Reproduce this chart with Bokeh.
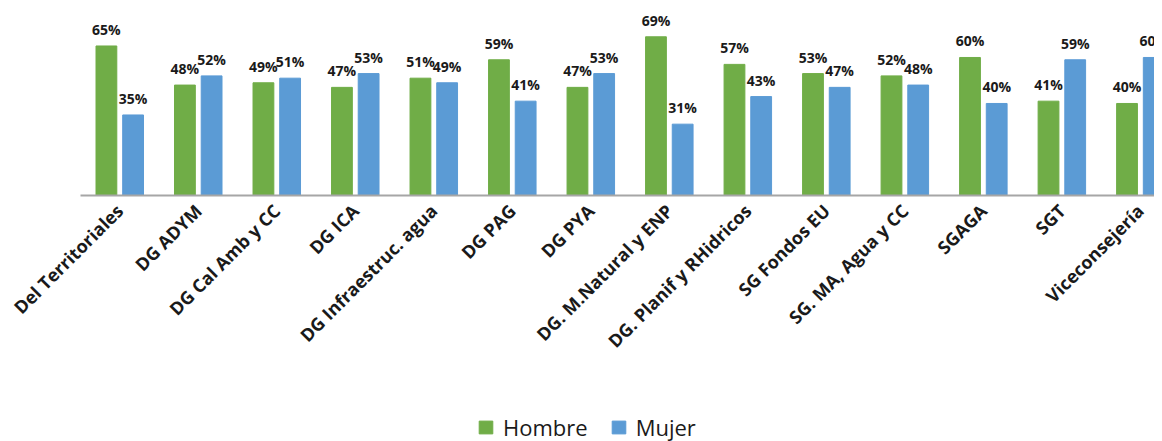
import math
from bokeh.plotting import figure
from bokeh.models import ColumnDataSource, LabelSet, Legend, LegendItem, FixedTicker, Range1d
from bokeh.embed import file_html
from bokeh.resources import INLINE
from bokeh.core.properties import value

categories = ["Del Territoriales", "DG ADYM", "DG Cal Amb y CC", "DG ICA",
              "DG Infraestruc. agua", "DG PAG", "DG PYA", "DG. M.Natural y ENP",
              "DG. Planif y RHidricos", "SG Fondos EU", "SG. MA, Agua y CC",
              "SGAGA", "SGT", "Viceconsejería"]
hombre = [65, 48, 49, 47, 51, 59, 47, 69, 57, 53, 52, 60, 41, 40]
mujer = [35, 52, 51, 53, 49, 41, 53, 31, 43, 47, 48, 40, 59, 60]

GREEN = "#70AD47"
BLUE = "#5B9BD5"
off = 0.17
idx = list(range(len(categories)))

src_h = ColumnDataSource(dict(x=[i - off for i in idx], y=hombre,
                              lbl=[f"{v}%" for v in hombre]))
src_m = ColumnDataSource(dict(x=[i + off for i in idx], y=mujer,
                              lbl=[f"{v}%" for v in mujer]))

X_START, X_END = -1.519, 13.18
p = figure(frame_width=1154, frame_height=433, x_range=Range1d(X_START, X_END),
           y_range=Range1d(-107, 81.3), output_backend="svg",
           toolbar_location=None, min_border_left=0, min_border_right=0,
           min_border_top=8, min_border_bottom=0)

rh = p.vbar(x="x", top="y", width=0.265, source=src_h, color=GREEN)
rm = p.vbar(x="x", top="y", width=0.265, source=src_m, color=BLUE)

for src in (src_h, src_m):
    p.add_layout(LabelSet(x="x", y="y", text="lbl", source=src,
                          text_align="center", text_baseline="bottom",
                          y_offset=7, text_font_size="14px",
                          text_font_style="bold", text_font=value("Open Sans"),
                          text_color="#1a1a1a"))

p.yaxis.visible = False
p.grid.visible = False
p.outline_line_color = None

ax = p.xaxis[0]
ax.fixed_location = 0
ax.bounds = (-0.5, X_END)
ax.ticker = FixedTicker(ticks=idx)
ax.major_label_overrides = {i: c for i, c in enumerate(categories)}
ax.major_label_orientation = math.pi / 4
ax.major_label_text_font = "Open Sans"
ax.major_label_text_font_size = "18px"
ax.major_label_text_font_style = "bold"
ax.major_label_text_color = "#1a1a1a"
ax.major_label_standoff = 6
ax.major_tick_line_color = None
ax.minor_tick_line_color = None
ax.axis_line_color = "#A6A6A6"
ax.axis_line_width = 2

legend = Legend(items=[LegendItem(label="Hombre", renderers=[rh]),
                       LegendItem(label="Mujer", renderers=[rm])],
                orientation="horizontal", location=(477, -1),
                glyph_width=17, glyph_height=16, label_text_font="Open Sans",
                label_text_font_size="22px", label_text_color="#1a1a1a",
                spacing=22, label_standoff=9, border_line_color=None,
                background_fill_alpha=0, padding=0, margin=0)
p.add_layout(legend, "center")

open("out.html", "w").write(file_html(p, INLINE))
